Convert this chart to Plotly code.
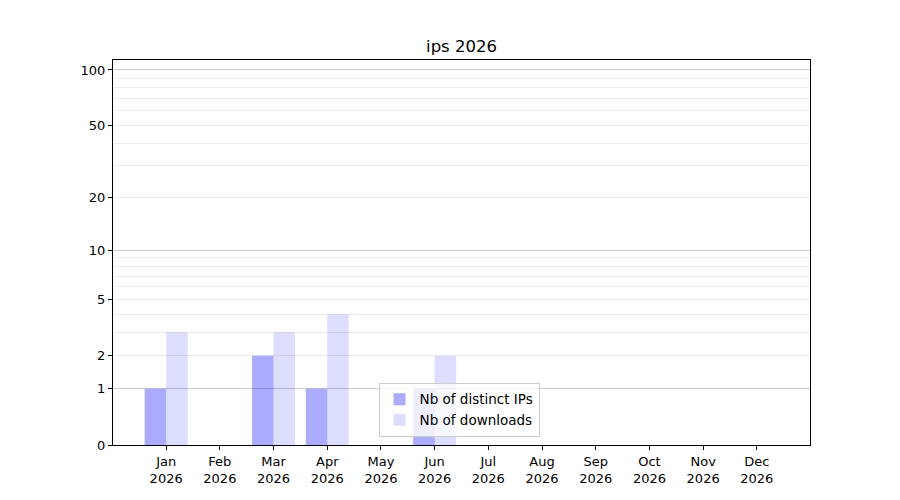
import plotly.graph_objects as go

months = ["Jan", "Feb", "Mar", "Apr", "May", "Jun",
          "Jul", "Aug", "Sep", "Oct", "Nov", "Dec"]
year = "2026"
distinct_ips = [1, 0, 2, 1, 0, 1, 0, 0, 0, 0, 0, 0]
downloads = [3, 0, 3, 4, 0, 2, 0, 0, 0, 0, 0, 0]

# y axis is log(1 + count): labels show the count, axis works on 1 + count
tick_counts = [0, 1, 2, 5, 10, 20, 50, 100]
minor_counts = [2, 3, 4, 5, 6, 7, 8, 9, 20, 30, 40, 50, 60, 70, 80, 90]
major_grid_counts = [1, 10, 100]

FONT = "DejaVu Sans"
x = list(range(len(months)))

fig = go.Figure()
fig.add_trace(go.Bar(x=x, y=distinct_ips, base=1, width=0.4, offset=-0.4,
                     name="Nb of distinct IPs",
                     marker=dict(color="rgba(0,0,255,0.33)", line=dict(width=0))))
# second trace on the overlay axis so that its (darker) grid is drawn
fig.add_trace(go.Bar(x=x, y=downloads, base=1, width=0.4, offset=0,
                     name="Nb of downloads", yaxis="y2",
                     marker=dict(color="rgba(0,0,255,0.135)", line=dict(width=0))))

yrange = [0, 2.0577]
fig.update_layout(
    width=900, height=500,
    # page body adds 8px, so margins are shifted by that amount
    margin=dict(l=105, r=98, t=52, b=63),
    plot_bgcolor="white", paper_bgcolor="white",
    barmode="overlay",
    font=dict(family=FONT, size=13, color="black"),
    title=dict(text=f"ips {year}", x=0.5, xref="paper", y=1 - 38 / 500,
               yref="container", xanchor="center", yanchor="middle",
               font=dict(size=16.5)),
    xaxis=dict(range=[-0.99, 11.99], tickmode="array", tickvals=x,
               ticktext=[f"{m}<br>{year}" for m in months],
               showgrid=False, zeroline=False, showline=True, mirror=True,
               linecolor="black", linewidth=1, ticks="outside", ticklen=4,
               tickcolor="black"),
    yaxis=dict(type="log", range=yrange, tickmode="array",
               tickvals=[c + 1 for c in tick_counts],
               ticktext=[str(c) for c in tick_counts],
               showgrid=False, zeroline=False, showline=True, mirror=True,
               linecolor="black", linewidth=1, ticks="outside", ticklen=4,
               tickcolor="black",
               minor=dict(tickmode="array", tickvals=[c + 1 for c in minor_counts],
                          showgrid=True, gridcolor="#ececec", gridwidth=0.8,
                          ticks="")),
    yaxis2=dict(type="log", range=yrange, overlaying="y", side="left",
                tickmode="array", tickvals=[c + 1 for c in major_grid_counts],
                showticklabels=False, ticks="", showgrid=True,
                gridcolor="#cccccc", gridwidth=1, zeroline=False, showline=False),
    legend=dict(x=0.381, y=0.021, xanchor="left", yanchor="bottom",
                bgcolor="rgba(255,255,255,0.8)", bordercolor="#cccccc",
                borderwidth=1, font=dict(size=13.5), tracegroupgap=0,
                itemwidth=30),
    showlegend=True,
)

fig.write_html("out.html")
